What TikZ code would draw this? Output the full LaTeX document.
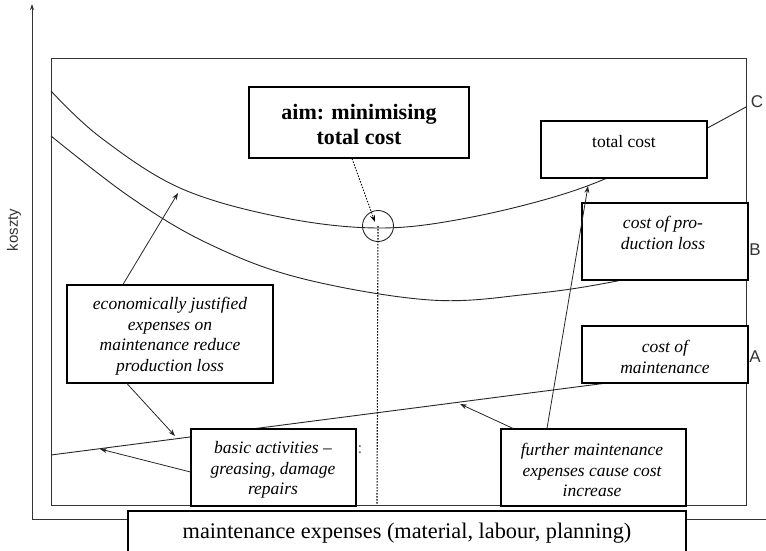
\documentclass[tikz,border=0pt]{standalone}
\usepackage{fontspec}
\setmainfont{Liberation Serif}
\newfontfamily\sansfam{Liberation Sans}
\usetikzlibrary{arrows.meta}
\begin{document}
\begin{tikzpicture}[x=1pt,y=-1pt,
  box/.style={draw, line width=1.2pt, fill=white, inner sep=0pt},
  crv/.style={line width=0.9pt, draw=black!85},
  itxt/.style={align=center, inner sep=0pt, font=\fontsize{17.5}{20.5}\selectfont\itshape},
  rtxt/.style={align=center, inner sep=0pt, font=\fontsize{17.5}{20.5}\selectfont},
  lab/.style={inner sep=0pt, font=\sansfam\fontsize{17}{20}\selectfont, text=black!80},
  arr/.style={line width=0.8pt, draw=black!85, -{Stealth[length=7pt,width=5pt]}},
  dots/.style={line width=1.1pt, draw=black, dash pattern=on 1.5pt off 1.5pt},
]
\useasboundingbox (0,0) rectangle (766,551);
\clip (0,0) rectangle (766,551);

% axes
\coordinate (orig) at (32,519);
\coordinate (ytop) at (32,4);
\coordinate (xend) at (766,519);
\draw[line width=0.9pt, draw=black!80, -{Stealth[length=6pt,width=4pt]}] (orig) -- (ytop);
\draw[line width=0.9pt, draw=black!80] (orig) -- (xend);
\node[lab, rotate=90, font=\sansfam\fontsize{15}{18}\selectfont] (koszty) at (14,230) {koszty};

% plot frame
\draw[line width=0.9pt, draw=black!80] (51,58) rectangle (746.5,505);

% total cost curve
\draw[crv] plot[smooth, tension=0.6] coordinates {(51,91) (100,137) (180,188) (280,217) (378,228) (467,218) (570,192) (650,158) (746,107)};
% production loss curve
\draw[crv] plot[smooth, tension=0.6] coordinates {(51,136) (130,197) (207,243) (300,278) (430,300) (530,294) (617,281) (746,252)};
% maintenance cost line
\coordinate (ma) at (51,455);
\coordinate (mb) at (746,365);
\draw[crv] (ma) -- (mb);

% circle and dotted vertical
\node[draw, circle, line width=0.9pt, draw=black!85, minimum size=31pt, inner sep=0pt] (aimc) at (378,226) {};
\coordinate (dotend) at (377,505);
\draw[dots] (aimc.center) -- (dotend);

% boxes
\node[box, minimum width=220pt, minimum height=71pt] (aim) at (359,122.5) {};
\node[box, minimum width=166pt, minimum height=57pt] (tc) at (624,149.5) {};
\node[box, minimum width=166pt, minimum height=77pt] (pl) at (665,241.5) {};
\node[box, minimum width=166pt, minimum height=57pt] (cm) at (665,354.5) {};
\node[box, minimum width=206pt, minimum height=98pt] (econ) at (170,334) {};
\node[box, minimum width=165pt, minimum height=77pt] (basic) at (273.5,467.5) {};
\node[box, minimum width=185pt, minimum height=77pt] (further) at (593.5,467.5) {};
\node[box, minimum width=558pt, minimum height=70pt] (bottom) at (407,546) {};

% texts
\node[align=center, inner sep=0pt, font=\fontsize{22}{25}\selectfont\bfseries] (aimt) at (359,124.5) {aim: minimising\\total cost};
\node[rtxt] (tct) at (624,142) {total cost};
\node[itxt] (plt) at (663,233) {cost of pro-\\duction loss};
\node[itxt] (cmt) at (665,357) {cost of\\maintenance};
\node[itxt] (econt) at (170,336) {economically justified\\expenses on\\maintenance reduce\\production loss};
\node[itxt] (basict) at (273,470) {basic activities –\\greasing, damage\\repairs};
\node[itxt] (furthert) at (592,470) {further maintenance\\expenses cause cost\\increase};
\node[inner sep=0pt, font=\fontsize{22.3}{26}\selectfont] (bottomt) at (407,533) {maintenance expenses (material, labour, planning)};
\node[inner sep=0pt, font=\fontsize{17}{20}\selectfont, text=black!60] (colon) at (360,450) {:};

% curve labels
\node[lab] (C) at (757,102) {C};
\node[lab] (B) at (755,250) {B};
\node[lab] (A) at (755,357) {A};

% arrows
\coordinate (tipE1) at (178,193);
\coordinate (tipE2) at (175,436);
\coordinate (tipB) at (100,449);
\coordinate (tipF1) at (460,404);
\coordinate (tipF2) at (588,186);
\coordinate (tipA) at (375,222);
\draw[arr] ([xshift=-47pt]econ.north) -- (tipE1);
\draw[arr] ([xshift=-43pt]econ.south) -- (tipE2);
\draw[arr] ([yshift=-4.5pt]basic.west) -- (tipB);
\draw[arr] ([xshift=-80.5pt]further.north) -- (tipF1);
\draw[arr] ([xshift=-46.5pt]further.north) -- (tipF2);
\draw[arr, dots, line width=0.9pt] ([xshift=-7pt]aim.south) -- (tipA);
\end{tikzpicture}
\end{document}
